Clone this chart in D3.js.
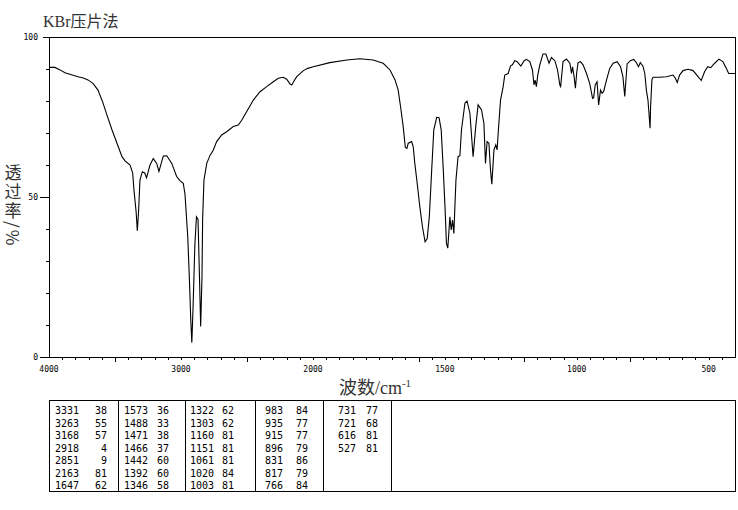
<!DOCTYPE html>
<html><head><meta charset="utf-8">
<script src="https://cdn.jsdelivr.net/npm/d3@7"></script>
<style>body{margin:0;background:#fff}svg{display:block}</style>
</head><body>
<svg id="c" width="738" height="510"></svg>
<script>
// ---- data ----
const wavenumbers = [4000,3955,3920,3879,3830,3780,3740,3705,3667,3629,3591,3561,3523,3485,3447,3424,3386,3366,3356,3340,3331,3322,3311,3293,3275,3261,3235,3210,3184,3167,3150,3134,3108,3070,3033,3008,2983,2970,2949,2937,2926,2918,2909,2895,2883,2871,2860,2851,2841,2836,2826,2805,2780,2755,2730,2692,2654,2604,2566,2540,2502,2452,2401,2351,2301,2263,2225,2199,2174,2161,2145,2123,2073,2040,1999,1936,1872,1822,1772,1734,1708,1689,1677,1668,1658,1650,1644,1639,1626,1620,1614,1605,1595,1585,1575,1567,1559,1550,1542,1531,1522,1514,1506,1499,1494,1489,1481,1476,1471,1466,1458,1450,1443,1437,1424,1416,1405,1393,1383,1374,1361,1352,1346,1340,1333,1327,1322,1314,1307,1302,1297,1289,1279,1273,1260,1251,1244,1235,1226,1212,1200,1191,1178,1168,1162,1158,1153,1148,1140,1128,1117,1105,1096,1083,1073,1064,1061,1057,1052,1039,1026,1020,1016,1010,1005,1000,995,986,976,963,951,940,936,930,923,917,910,904,898,887,875,862,847,834,825,818,814,809,797,784,774,766,759,749,742,736,730,726,722,720,715,711,686,660,635,626,619,610,597,578,559,540,528,515,503,492,477,461,446,433,424,400];
const transmittance = [90.5,90.5,89.8,88.8,88.2,87.6,87.2,86.6,85.5,83.4,79.4,75.6,71,66.8,62.6,61.3,60,57.5,52,45.4,39.5,45,55.3,57.9,57.5,56,60,62,60.5,58,60.5,62.8,62.9,60.5,56.4,55.1,54.3,51,37.7,25,11.6,4.5,15,35,43.8,43,25,9.5,25,43.4,55.3,60.5,63,64.7,67.3,69.4,70.4,72,72.5,74,76.7,80.3,82.9,84.5,86,87.1,87.4,86.8,85.3,85,86.2,87.6,89.5,90.2,90.7,92,92.8,93.2,92.8,91.8,89.7,86.6,83.4,78.2,72,65.5,65.2,66.8,67.3,65.7,60.5,54.3,47,40.7,36,37,43.8,58.4,71,74.9,74.8,71,58.4,45.9,35.5,34,43.8,39.7,42.8,38.6,55.3,62.6,62.9,71,79.3,80,76.1,62.6,72,78.8,77.2,73,60.5,67.3,66.8,58.4,54,64.7,66.3,64.7,71,80.3,84.5,88.1,88.6,91,91.3,92.6,92.3,90.9,92.5,93,92.3,89.7,85,86.5,84.5,88,91.3,94.7,94.7,91.8,93.6,92.6,89.7,85,84.5,88,92.3,93.1,91.8,88.6,90.7,87.6,84,89,92,92.3,91.3,88.6,85.5,80.8,81,85,86,78.8,83.4,82.4,83,86.6,90.2,91.8,92.3,90.7,87.6,81.4,86,91.6,92.6,93,92,90.7,92,90.9,88.6,83.4,80.3,76,71.5,78.2,86.6,87.4,87.4,87.6,88.1,87.1,85.8,88.1,89.5,89.9,89.5,87.6,86.4,89.2,90.7,90.4,91.8,93.1,92.3,90.2,88.6,88.6];

const xTickLabels = [4000,3000,2000,1500,1000,500];
const yTickLabels = [0,50,100];
const peakWavenumbers = [3331,3263,3168,2918,2851,2163,1647,
                         1573,1488,1471,1466,1442,1392,1346,
                         1322,1303,1160,1151,1061,1020,1003,
                         983,935,915,896,831,817,766,
                         731,721,616,527];
const peakValues = [38,55,57,4,9,81,62,
                    36,33,38,37,60,60,58,
                    62,62,81,81,81,84,81,
                    84,77,77,79,86,79,84,
                    77,68,81,81];
const titleText = "KBr压片法";
const yTitle = "透过率/%";

// ---- layout ----
const svg = d3.select("#c");
const L = 49, R = 735, T = 37, B = 357;
const x = d3.scaleLinear().domain([4000,2000,400]).range([L,313,R]);
const y = d3.scaleLinear().domain([0,100]).range([B,T]);
const px = v => Math.round(v) + 0.5;

// frame
const g = svg.append("g").attr("stroke","#000").attr("stroke-width",1).attr("fill","none");
g.append("rect").attr("x",px(L)).attr("y",px(T)).attr("width",R-L).attr("height",B-T);

// x ticks
const minorX = d3.range(3900,2000,-100).concat(d3.range(2000,400,-50));
const longX = [3500,2500,1600,1200,800];
minorX.forEach(v=>{
  const len = longX.includes(v) ? 5 : 3;
  g.append("line").attr("x1",px(x(v))).attr("x2",px(x(v))).attr("y1",B).attr("y2",B+len);
});
xTickLabels.forEach(v=>{
  svg.append("text").attr("x",x(v)).attr("y",372).attr("text-anchor","middle")
    .attr("font-family","DejaVu Sans Mono").attr("font-size",8).attr("fill","#000").text(v);
});
// y ticks
d3.range(0,101,10).forEach(v=>{
  const len = (v===0||v===50) ? 9 : (v===100 ? 6 : 3);
  g.append("line").attr("x1",L-len).attr("x2",L).attr("y1",px(y(v))).attr("y2",px(y(v)));
});
yTickLabels.forEach(v=>{
  svg.append("text").attr("x",38).attr("y",y(v)+3).attr("text-anchor","end")
    .attr("font-family","DejaVu Sans Mono").attr("font-size",8).attr("fill","#000").text(v);
});

// spectrum
const pts = wavenumbers.map((w,i)=>[w,transmittance[i]]);
svg.append("path").datum(pts)
  .attr("d", d3.line().x(d=>x(d[0])).y(d=>y(d[1])))
  .attr("fill","none").attr("stroke","#000").attr("stroke-width",1.1);

// title
svg.append("text").attr("x",43).attr("y",27).attr("font-family","Liberation Serif, Noto Sans CJK SC")
  .attr("font-size",16).attr("fill","#333").text(titleText);

// y label (vertical, one text)
svg.append("text").attr("x",13).attr("y",164)
  .attr("style","writing-mode: vertical-rl; text-orientation: mixed;")
  .attr("font-family","Noto Sans CJK SC").attr("font-size",17).attr("letter-spacing",2)
  .attr("fill","#333").text(yTitle);

// x label
const xl = svg.append("text").attr("x",375).attr("y",394).attr("text-anchor","middle")
  .attr("font-family","Liberation Serif, Noto Sans CJK SC").attr("font-size",18).attr("fill","#333");
xl.append("tspan").text("波数/cm");
xl.append("tspan").attr("dy",-7).attr("font-size",11).text("-1");

// table
const tb = svg.append("g").attr("stroke","#000").attr("fill","none");
tb.append("rect").attr("x",px(L)).attr("y",px(400)).attr("width",R-L).attr("height",91);
const dividers = [118, 185, 255, 323, 391];
dividers.forEach(d=> tb.append("line").attr("x1",px(d)).attr("x2",px(d)).attr("y1",400).attr("y2",491));
const colWnX = [55,124,190,265,338];
const colValX = [107,169,234,308,378];
peakWavenumbers.forEach((w,i)=>{
  const c = Math.floor(i/7), r = i%7;
  const by = 414 + r*12.5;
  svg.append("text").attr("x",colWnX[c]).attr("y",by).attr("font-family","DejaVu Sans Mono")
    .attr("font-size",10).attr("fill","#000").text(w);
  svg.append("text").attr("x",colValX[c]).attr("y",by).attr("text-anchor","end").attr("font-family","DejaVu Sans Mono")
    .attr("font-size",10).attr("fill","#000").text(peakValues[i]);
});
</script>
</body></html>
